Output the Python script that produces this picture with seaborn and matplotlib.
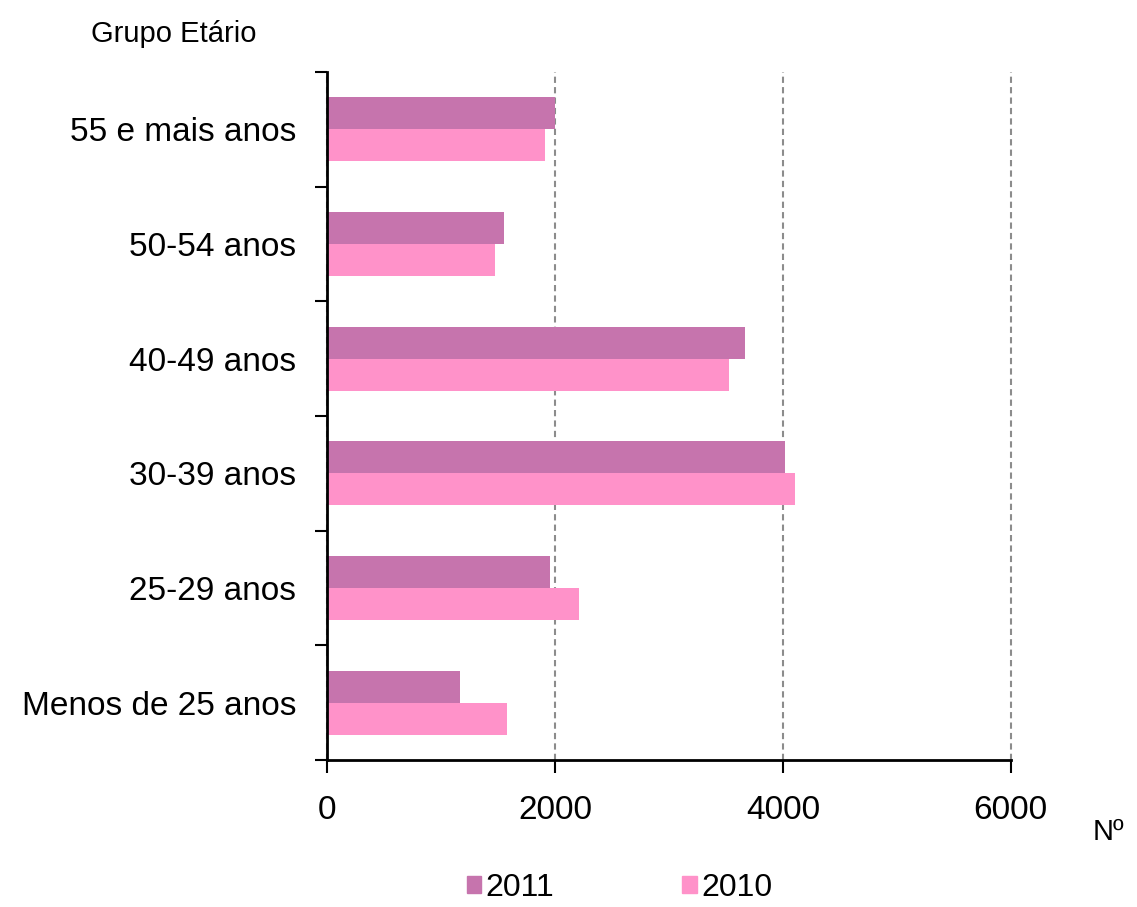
import seaborn as sns
import matplotlib.pyplot as plt
import pandas as pd

# data
grupos = ["55 e mais anos", "50-54 anos", "40-49 anos", "30-39 anos", "25-29 anos", "Menos de 25 anos"]
anos = ["2011", "2010"]
v2011 = [2000, 1550, 3670, 4020, 1960, 1170]
v2010 = [1910, 1470, 3530, 4110, 2210, 1580]
cores = ["#C674AD", "#FF92C9"]

df = pd.DataFrame({
    "Grupo": grupos * 2,
    "Ano": [anos[0]] * len(grupos) + [anos[1]] * len(grupos),
    "N": v2011 + v2010,
})

sns.set_style("white")
plt.rcParams["font.family"] = ["Liberation Sans", "DejaVu Sans"]
plt.rcParams["text.color"] = "black"
plt.rcParams["xtick.color"] = "black"
plt.rcParams["ytick.color"] = "black"

fig = plt.figure(figsize=(11.37, 9.07), dpi=100)
ax = fig.add_axes([0.2876, 0.162, 0.6014, 0.7586])

sns.barplot(data=df, y="Grupo", x="N", hue="Ano", order=grupos, hue_order=anos,
            palette=cores, width=0.56, saturation=1, linewidth=0, ax=ax, legend=False)

ax.set_xlim(0, 6000)
ax.set_ylim(len(grupos) - 0.5, -0.5)
ax.set_xticks([0, 2000, 4000, 6000])
ax.set_xticklabels(["0", "2000", "4000", "6000"], fontsize=24)
ax.xaxis.grid(True, linestyle=(0, (3, 2)), color="#8c8c8c", linewidth=1.5)
for gl in ax.get_xgridlines():
    gl.set_clip_on(False)
ax.set_axisbelow(True)

# tick marks between categories
ax.set_yticks(range(len(grupos)))
ax.set_yticklabels(grupos, fontsize=24)
ax.set_yticks([i - 0.5 for i in range(len(grupos) + 1)], minor=True)
ax.tick_params(axis="y", which="major", length=0, pad=22)
ax.tick_params(axis="y", which="minor", length=9, width=1.5, color="black", left=True)
ax.tick_params(axis="x", length=9, width=1.5, color="black", bottom=True, pad=16)

for s in ["top", "right"]:
    ax.spines[s].set_visible(False)
for s in ["left", "bottom"]:
    ax.spines[s].set_color("black")
    ax.spines[s].set_linewidth(2)

ax.set_xlabel("")
ax.set_ylabel("")

fig.text(0.08, 0.962, "Grupo Etário", fontsize=21, ha="left", va="center")
fig.text(0.975, 0.083, "Nº", fontsize=21, ha="center", va="center")

handles = [plt.Rectangle((0, 0), 1, 1, color=c) for c in cores]
fig.legend(handles, anos, loc="center", bbox_to_anchor=(0.545, 0.021), ncol=2,
           frameon=False, fontsize=23, handlelength=0.45, handleheight=0.45,
           handletextpad=0.15, columnspacing=4.0)

fig.savefig("out.png", dpi=100)
